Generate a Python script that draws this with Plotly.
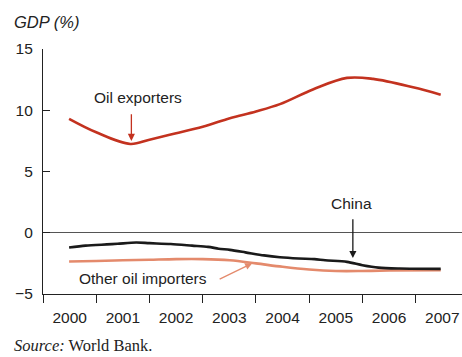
import plotly.graph_objects as go

# --- data (fractional years, GDP %) ---
oil_exporters_x = [2000.49, 2001.0, 2001.64, 2002.0, 2002.48, 2003.0, 2003.51,
                   2004.0, 2004.45, 2005.07, 2005.71, 2006.2, 2006.95, 2007.47]
oil_exporters_y = [9.3, 8.2, 7.25, 7.6, 8.1, 8.65, 9.35,
                   9.9, 10.5, 11.7, 12.64, 12.56, 11.87, 11.27]

china_x = [2000.49, 2000.8, 2001.2, 2001.4, 2001.75, 2002.0, 2002.4, 2002.8,
           2003.1, 2003.3, 2003.51, 2003.8, 2004.15, 2004.45, 2004.8, 2005.1,
           2005.3, 2005.71, 2006.0, 2006.3, 2006.7, 2007.47]
china_y = [-1.2, -1.05, -0.95, -0.9, -0.8, -0.85, -0.92, -1.05,
           -1.15, -1.3, -1.4, -1.6, -1.85, -2.0, -2.1, -2.15,
           -2.25, -2.38, -2.65, -2.85, -2.92, -2.95]

importers_x = [2000.49, 2001.0, 2001.5, 2002.0, 2002.5, 2003.0, 2003.51,
               2004.0, 2004.5, 2005.0, 2005.5, 2006.0, 2006.5, 2007.47]
importers_y = [-2.35, -2.3, -2.25, -2.2, -2.15, -2.15, -2.25,
               -2.5, -2.78, -3.0, -3.12, -3.12, -3.08, -3.05]

years = [2000, 2001, 2002, 2003, 2004, 2005, 2006, 2007]
year_labels = [str(y) for y in years]
y_ticks = [-5, 0, 5, 10, 15]

RED = "#c3321f"
ORANGE = "#e48a6c"
BLACK = "#1a1a1a"
TEXT = "#222222"
SANS = "Liberation Sans, Arial, sans-serif"
SERIF = "Liberation Serif, Times New Roman, serif"

fig = go.Figure()
fig.add_trace(go.Scatter(x=oil_exporters_x, y=oil_exporters_y, mode="lines",
                         line=dict(color=RED, width=2.6, shape="spline", smoothing=1.0)))
fig.add_trace(go.Scatter(x=importers_x, y=importers_y, mode="lines",
                         line=dict(color=ORANGE, width=2.6, shape="spline", smoothing=1.0)))
fig.add_trace(go.Scatter(x=china_x, y=china_y, mode="lines",
                         line=dict(color=BLACK, width=2.6, shape="spline", smoothing=0.8)))

# series labels
fig.add_annotation(x=2001.79, y=11.05, text="Oil exporters", showarrow=False,
                   font=dict(family=SANS, size=15.5, color=TEXT))
fig.add_annotation(x=2005.8, y=2.4, text="China", showarrow=False,
                   font=dict(family=SANS, size=15.5, color=TEXT))
fig.add_annotation(x=2001.88, y=-3.73, text="Other oil importers", showarrow=False,
                   font=dict(family=SANS, size=15.5, color=TEXT))

# arrows
arrow = dict(text="", showarrow=True, axref="x", ayref="y", arrowhead=2,
             arrowsize=1.1, arrowwidth=1.3, standoff=0, startstandoff=0)
fig.add_annotation(x=2001.66, y=7.5, ax=2001.66, ay=9.8, arrowcolor=RED, **arrow)
fig.add_annotation(x=2005.82, y=-2.07, ax=2005.82, ay=1.23, arrowcolor=BLACK, **arrow)
fig.add_annotation(x=2003.93, y=-2.49, ax=2003.29, ay=-3.84, arrowcolor=ORANGE, **arrow)

# axis title and source
fig.add_annotation(xref="paper", yref="paper", x=-0.074, y=1.11,
                   xanchor="left", yanchor="middle",
                   text="<i>GDP (%)</i>", showarrow=False,
                   font=dict(family=SANS, size=16.5, color=TEXT))
fig.add_annotation(xref="paper", yref="paper", x=-0.074, y=-0.212,
                   xanchor="left", yanchor="middle",
                   text="<i>Source:</i> World Bank.", showarrow=False,
                   font=dict(family=SERIF, size=16.5, color=TEXT))

fig.update_xaxes(
    range=[2000, 2007.87],
    tickvals=[y + 0.5 for y in years], ticktext=year_labels, ticks="",
    ticklabelstandoff=9,
    minor=dict(tickvals=years + [2008], ticks="outside", ticklen=8,
               tickcolor=TEXT, tickwidth=1.2, showgrid=False),
    showline=True, linecolor=TEXT, linewidth=1.2,
    showgrid=False, zeroline=False,
    tickfont=dict(family=SANS, size=15.5, color=TEXT),
)
fig.update_yaxes(
    range=[-5, 15], tickvals=y_ticks,
    ticktext=["\u22125", "0", "5", "10", "15"],
    ticks="inside", ticklen=7, tickcolor=TEXT, tickwidth=1.2,
    ticklabelstandoff=6,
    showline=True, linecolor=TEXT, linewidth=1.2,
    showgrid=False, zeroline=True, zerolinecolor="#555555", zerolinewidth=1.2,
    tickfont=dict(family=SANS, size=15.5, color=TEXT),
)
fig.update_layout(
    width=462, height=357,
    margin=dict(l=43, r=0, t=49, b=63),
    paper_bgcolor="white", plot_bgcolor="white",
    showlegend=False,
)

# drop the default page margin so the figure fills the window exactly
fig.write_html(
    "out.html",
    config={"displayModeBar": False},
    post_script="document.body.style.margin='0';document.body.style.overflow='hidden';",
)
